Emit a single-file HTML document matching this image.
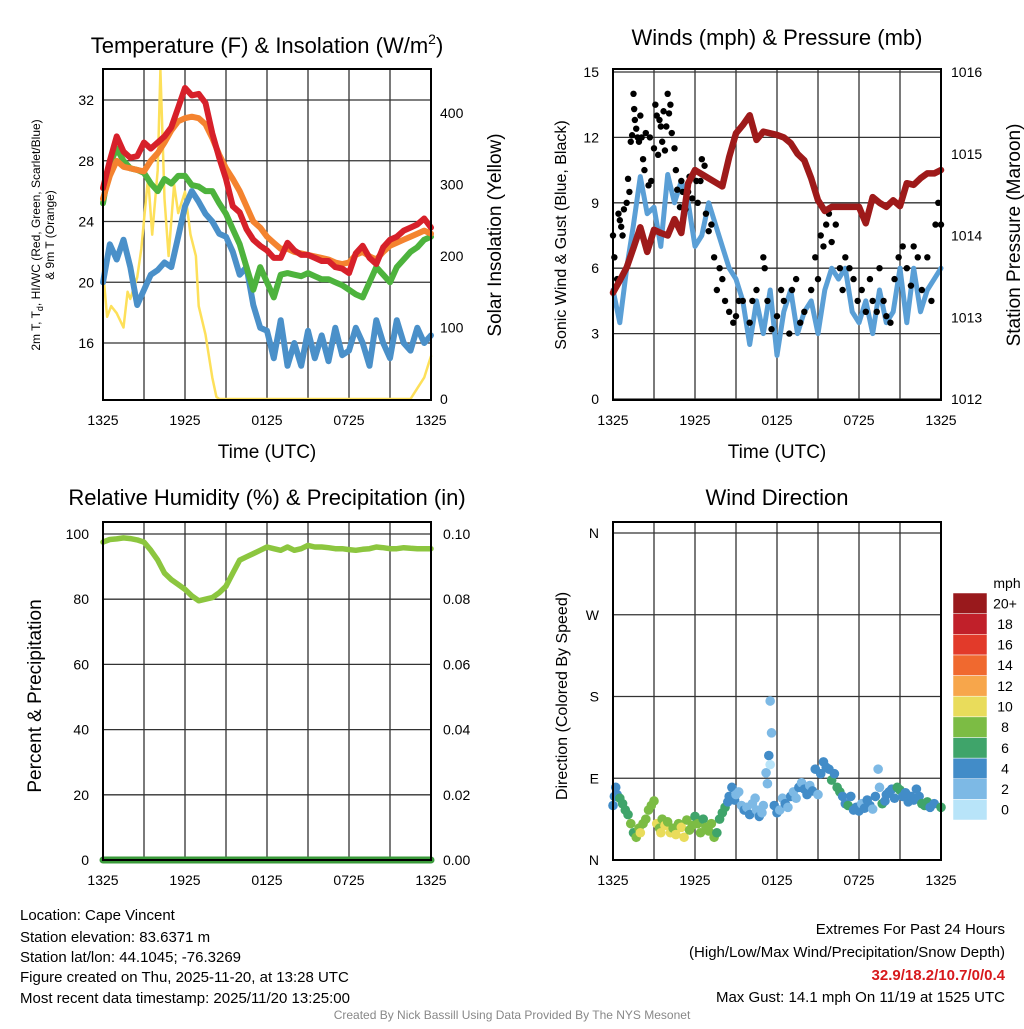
<!DOCTYPE html>
<html><head><meta charset="utf-8"><style>
body{margin:0;background:#fff;width:1024px;height:1024px;overflow:hidden}
svg{font-family:"Liberation Sans",sans-serif}
</style></head><body>
<svg id="s" width="1024" height="1024" viewBox="0 0 1024 1024" xmlns="http://www.w3.org/2000/svg">
<g id="g"></g>
<g font-size="22" text-anchor="middle" fill="#000">
<text x="267" y="53">Temperature (F) &amp; Insolation (W/m<tspan font-size="14" dy="-9">2</tspan><tspan dy="9">)</tspan></text>
<text x="777" y="45">Winds (mph) &amp; Pressure (mb)</text>
<text x="267" y="505">Relative Humidity (%) &amp; Precipitation (in)</text>
<text x="777" y="505">Wind Direction</text>
</g>
<g font-size="19" text-anchor="middle">
<text x="267" y="458">Time (UTC)</text>
<text x="777" y="458">Time (UTC)</text>
<text transform="translate(501,235) rotate(-90)">Solar Insolation (Yellow)</text>
<text transform="translate(1020,235) rotate(-90)">Station Pressure (Maroon)</text>
<text transform="translate(41,696) rotate(-90)">Percent &amp; Precipitation</text>
</g>
<g font-size="12" text-anchor="middle">
<text transform="translate(40,235) rotate(-90)">2m T, T<tspan font-size="9" dy="3">d</tspan><tspan dy="-3">, HI/WC (Red, Green, Scarlet/Blue)</tspan></text>
<text transform="translate(54,235) rotate(-90)">&amp; 9m T (Orange)</text>
</g>
<g font-size="16" text-anchor="middle">
<text transform="translate(566,235) rotate(-90)">Sonic Wind &amp; Gust (Blue, Black)</text>
<text transform="translate(567,696) rotate(-90)">Direction (Colored By Speed)</text>
</g>
<g font-size="15">
<text x="20" y="920">Location: Cape Vincent</text>
<text x="20" y="942">Station elevation: 83.6371 m</text>
<text x="20" y="962">Station lat/lon: 44.1045; -76.3269</text>
<text x="20" y="982">Figure created on Thu, 2025-11-20, at 13:28 UTC</text>
<text x="20" y="1003">Most recent data timestamp: 2025/11/20 13:25:00</text>
</g>
<g font-size="15" text-anchor="end">
<text x="1005" y="934">Extremes For Past 24 Hours</text>
<text x="1005" y="957">(High/Low/Max Wind/Precipitation/Snow Depth)</text>
<text x="1005" y="980" fill="#d7191c" font-weight="bold">32.9/18.2/10.7/0/0.4</text>
<text x="1005" y="1002">Max Gust: 14.1 mph On 11/19 at 1525 UTC</text>
</g>
<text x="512" y="1019" font-size="12" fill="#888" text-anchor="middle">Created By Nick Bassill Using Data Provided By The NYS Mesonet</text>
</svg>
<script>
// ---- data (half-hourly unless paired) ----
const xTickLabels=["1325","1925","0125","0725","1325"];
const tempTicks=[16,20,24,28,32];
const insolTicks=[0,100,200,300,400];
const windTicks=[0,3,6,9,12,15];
const presTicks=[1012,1013,1014,1015,1016];
const rhTicks=[0,20,40,60,80,100];
const precipTicks=["0.00","0.02","0.04","0.06","0.08","0.10"];
const dirTicks=["N","E","S","W","N"];
const tempRed=[26.2,28,29.6,28.6,28.2,28.3,29.2,28.8,29.2,29.6,30.2,31.5,32.8,32.3,32.4,31.8,29.8,28.2,26.8,25,24.6,23.5,22.8,22.4,22.1,21.6,21.6,22.6,22.1,21.8,21.8,21.6,21.4,21.4,21,20.9,20.6,21.9,22.4,21.6,21.2,22.3,22.8,23,23.4,23.6,23.8,24.2,23.6];
const tempOrange=[25.5,27,28,27.6,27.5,27.4,27.3,28,28.5,29.2,30,30.6,30.8,30.9,30.8,30.4,29.5,28.4,27.5,26.8,26,25,24,23.6,23,22.6,22.2,22.2,22,21.9,21.8,21.7,21.6,21.5,21.3,21.2,21.3,21.8,22,21.7,21.5,22,22.4,22.6,22.8,23,23.2,23.4,23.2];
const tempGreen=[25.2,27.8,28.8,28,27.5,27.4,27.2,26.5,26,26.8,26.5,27,27,26.4,26.3,26,26,25.2,24.5,23.5,22.5,21,19.5,21,20,19,20.5,20.6,20.5,20.4,20.6,20.4,20.2,20.2,20,19.8,19.5,19.2,19,20,21,20.5,20,21,21.5,22,22.3,22.8,23];
const tempBlue=[20,22.5,21.5,22.8,21,18.5,19.5,20.5,20.8,21.3,21,23,25,26,25.3,24.5,24,23.2,23,22,20.5,21,18.5,17,16.8,15,17.5,14.5,16,14.5,16.8,15,16.5,14.8,17,15.2,15.5,17,16,14.5,17.5,16,15,17.5,16,15.5,17,16,16.5];
const insolHours=[0,0.3,0.6,1,1.5,1.8,2,2.5,2.8,3,3.3,3.6,4,4.2,4.5,4.8,5.2,5.5,6,6.4,6.8,7,7.5,8,8.3,8.5,22.5,23,23.5,24];
const insolVals=[180,115,130,120,100,150,140,170,210,250,310,230,320,460,280,200,300,260,290,230,200,130,90,30,3,0,0,15,30,60];
const windSpeed=[5,3.5,6,8,10.2,8.5,8.8,7,10.3,9,10,9,7,7.5,9,8,7,6,5.5,4.5,2.5,4.5,3,5,2,4,5,3,4,4.5,3,5,6,5.5,6,4,3.5,4.5,3,5,3.5,4,6,3.5,6,4,5,5.5,6];
const pressure=[1013.3,1013.45,1013.61,1013.85,1014.1,1013.8,1014.07,1014.03,1014,1014.2,1014.03,1014.64,1014.8,1014.75,1014.7,1014.65,1014.6,1014.96,1015.25,1015.35,1015.47,1015.17,1015.27,1015.25,1015.23,1015.2,1015.13,1015.0,1014.92,1014.7,1014.43,1014.3,1014.35,1014.35,1014.35,1014.35,1014.35,1014.15,1014.47,1014.4,1014.35,1014.43,1014.36,1014.64,1014.62,1014.7,1014.76,1014.76,1014.8];
const gustHours=[0,0.1,0.3,0.4,0.5,0.6,0.7,0.8,1,1.1,1.2,1.3,1.4,1.5,1.55,1.6,1.7,1.8,1.9,2,2.1,2.2,2.3,2.4,2.6,2.7,2.8,3,3.1,3.2,3.3,3.4,3.5,3.6,3.7,3.8,3.9,4,4.1,4.2,4.3,4.5,4.6,4.7,4.9,5,5.1,5.3,5.5,5.6,5.8,6,6.1,6.2,6.4,6.5,6.7,6.8,7,7.2,7.4,7.6,7.8,8,8.2,8.5,8.8,9,9.2,9.5,10,10.2,10.5,11,11.1,11.3,11.6,12,12.3,12.5,12.9,13.1,13.4,13.7,14,14.5,14.8,15,15.2,15.4,15.6,15.8,16,16.3,16.6,16.8,17,17.3,17.6,17.9,18.2,18.5,18.8,19,19.3,19.5,19.8,20,20.3,20.6,20.9,21.2,21.5,21.8,22,22.3,22.6,23,23.3,23.6,23.8,24];
const gustVals=[7.5,6.5,5.5,8.5,8.2,7.9,7.5,8.7,9,10.1,9.5,11.8,12.1,14,13.3,12.8,12.4,12,11.8,13,12,11,10.5,12.2,9.8,12,10,11.5,13.5,13,11.2,12.8,12.5,11.8,13.2,11.4,12.5,14,13.1,13.5,12.2,11.5,10.5,9.6,8.8,10,9.5,8.7,9.5,10.2,9.2,10.5,10,9,10,11,10.7,8.5,7.7,8,6.5,5,6,5.5,4.5,4,3.5,3.8,4.5,4.5,3.5,4.5,5,6.5,6,4.5,3.2,3.8,5,4.5,3,5,5.5,3.5,4,5,6.5,5.5,7.5,7,8,8.5,7.2,8,6,5,6.5,6,5.5,4.5,5,4,5.5,4.5,4,6,4.5,3.8,3.5,5.5,6.5,7,6,5.2,7,6.5,5,6.5,4.5,8,9,8];
const rh=[97.5,98.3,98.5,98.8,98.6,98.2,97.5,95,92,88,86,84.5,83,81,79.5,80,80.5,82,84,88,92,93,94,95,96,95.5,95,96,95,95.5,96.5,96,96,95.8,95.5,95.5,95.2,95,95.3,95.5,96,95.8,95.5,95.5,95.8,95.6,95.5,95.5,95.5];
const precip=[0,0,0,0,0,0,0,0,0,0,0,0,0,0,0,0,0,0,0,0,0,0,0,0,0,0,0,0,0,0,0,0,0,0,0,0,0,0,0,0,0,0,0,0,0,0,0,0,0];
const dirHours=[0,0.1,0.2,0.3,0.5,0.7,0.9,1.1,1.3,1.5,1.7,1.9,2,2.2,2.4,2.6,2.8,3,3.2,3.4,3.5,3.6,3.8,4,4.2,4.4,4.6,4.8,5,5.2,5.4,5.6,5.8,6,6.2,6.4,6.6,6.8,7,7.2,7.4,7.6,7.8,8,8.2,8.4,8.5,8.7,8.9,9,9.2,9.4,9.6,9.8,10,10.2,10.4,10.5,10.7,10.9,11,11.2,11.3,11.4,11.5,11.5,11.6,11.8,12,12.2,12.4,12.6,12.8,13,13.2,13.4,13.6,13.8,14,14.2,14.4,14.6,14.8,15,15.2,15.4,15.6,15.8,16,16.2,16.4,16.6,16.8,17,17.2,17.4,17.6,17.8,18,18.2,18.4,18.6,18.8,19,19.2,19.4,19.5,19.7,19.9,20,20.2,20.4,20.6,20.8,21,21.2,21.4,21.6,21.8,22,22.2,22.4,22.6,22.8,23,23.2,23.5,24];
const dirDeg=[60,70,80,72,68,62,55,50,40,30,25,35,30,40,45,55,60,65,40,35,30,45,38,42,30,35,28,40,36,25,44,33,38,48,40,30,45,36,32,40,25,30,45,52,58,64,70,80,66,72,75,60,55,58,50,62,68,55,48,52,60,96,84,115,105,175,140,60,52,55,68,62,58,70,75,68,80,85,78,72,82,76,100,72,95,108,102,100,88,95,80,75,70,62,60,70,55,58,54,62,57,66,60,56,70,100,80,62,65,72,75,78,68,80,77,70,74,64,70,66,78,70,62,60,64,58,62,58];
const dirSpeed=[5,4,4,5,6,6,6,7,8,7,8,9,10,8,9,8,8,8,10,9,10,8,10,9,10,8,10,9,10,10,8,9,8,7,8,9,7,8,9,8,8,7,6,6,7,5,4,4,4,3,2,3,4,3,4,2,2,3,4,3,2,2,2,4,1,2,2,4,4,3,2,4,3,4,2,3,4,3,4,4,3,4,4,3,4,4,4,5,6,4,6,6,5,5,6,5,4,4,4,3,4,4,5,3,4,2,3,6,4,4,4,5,4,6,6,4,4,4,5,5,4,4,6,6,6,5,4,6];
const speedColors=["#b8e4f9","#7db9e5","#428cc8","#3fa46a","#7cbc44","#e9dc5b","#f7a64b","#f0692f","#e23a2a","#c1202a","#99191c"];
const speedLabels=["0","2","4","6","8","10","12","14","16","18","20+"];

// ---- helpers ----
const NS="http://www.w3.org/2000/svg";
const G=document.getElementById('g');
function mk(tag,at,parent){const e=document.createElementNS(NS,tag);for(const k in at)e.setAttribute(k,at[k]);(parent||G).appendChild(e);return e;}
function txt(x,y,s,anchor,size,name){const t=mk('text',{x:x,y:y,'text-anchor':anchor,'font-size':size});t.textContent=s;


return t;}
function panel(x0,y0,x1,y1){return {x0,y0,x1,y1,xs:h=>x0+(x1-x0)*h/24};}
function lin(d0,d1,p0,p1){return v=>p0+(v-d0)*(p1-p0)/(d1-d0);}
function frame(P,name){
  const gr=mk('g',{});
  
  
  for(let i=1;i<8;i++){const x=P.xs(i*3);mk('line',{x1:x,x2:x,y1:P.y0,y2:P.y1,stroke:'#333','stroke-width':1.3},gr);}
  for(let i=0;i<5;i++){const x=P.xs(i*6);txt(x,P.y1+25,xTickLabels[i],'middle',14,name+'-x-tick');}
}
function hline(P,y,gr){mk('line',{x1:P.x0,x2:P.x1,y1:y,y2:y,stroke:'#333','stroke-width':1.3},gr);}
function border(P,name){const r=mk('rect',{x:P.x0,y:P.y0,width:P.x1-P.x0,height:P.y1-P.y0,fill:'none',stroke:'#000','stroke-width':2});

}
function path(pts,color,w,name){const d=pts.map((p,i)=>(i?'L':'M')+p[0].toFixed(1)+','+p[1].toFixed(1)).join('');
const e=mk('path',{d:d,fill:'none',stroke:color,'stroke-width':w,'stroke-linejoin':'round','stroke-linecap':'round'});

return e;}
function series(P,arr,ys){const n=arr.length;return arr.map((v,i)=>[P.xs(i*24/(n-1)),ys(v)]);}

// ---- Panel 1: temperature ----
const P1=panel(103,69,431,400);
const yT=lin(16,32,343,100), yI=lin(0,400,399,113);
frame(P1,'temp');
tempTicks.forEach(v=>{hline(P1,yT(v));txt(P1.x0-9,yT(v)+5,String(v),'end',14,'temp-y-tick');});
insolTicks.forEach(v=>{txt(P1.x1+9,yI(v)+5,String(v),'start',14,'insolation-y-tick');});
path(insolHours.map((h,i)=>[P1.xs(h),yI(insolVals[i])]),'#fde05a',2.5,'insolation-line');
path(series(P1,tempBlue,yT),'#4a90c9',6,'windchill-line');
path(series(P1,tempGreen,yT),'#4db33d',6,'dewpoint-line');
path(series(P1,tempOrange,yT),'#f4832f',6,'temp-9m-line');
path(series(P1,tempRed,yT),'#d7202a',6,'temp-2m-line');
border(P1,'temp');

// ---- Panel 2: winds ----
const P2=panel(613,69,941,400);
const yW=lin(0,15,399,72), yP=lin(1012,1016,399,72);
frame(P2,'wind');
windTicks.forEach(v=>{hline(P2,yW(v));txt(P2.x0-14,yW(v)+5,String(v),'end',14,'wind-y-tick');});
presTicks.forEach(v=>{txt(P2.x1+10,yP(v)+5,String(v),'start',14,'pressure-y-tick');});
path(series(P2,windSpeed,yW),'#5a9fd6',5,'wind-speed-line');
gustHours.forEach((h,i)=>{const c=mk('circle',{cx:P2.xs(h),cy:yW(gustVals[i]),r:3.2,fill:'#000'});

});
path(series(P2,pressure,yP),'#9e1a1a',6.5,'pressure-line');
border(P2,'wind');

// ---- Panel 3: RH ----
const P3=panel(103,522,431,860);
const yR=lin(0,100,860,534), yPr=lin(0,0.1,860,534);
frame(P3,'rh');
rhTicks.forEach((v,i)=>{hline(P3,yR(v));txt(P3.x0-14,yR(v)+5,String(v),'end',14,'rh-y-tick');txt(P3.x1+12,yR(v)+5,precipTicks[i],'start',14,'precip-y-tick');});
path(series(P3,rh,yR),'#8cc63f',5.5,'rh-line');
path(series(P3,precip,v=>yPr(v)),'#3a9a3a',7,'precip-line');
border(P3,'rh');

// ---- Panel 4: direction ----
const P4=panel(613,522,941,860);
const yD=lin(0,360,860,533);
frame(P4,'direction');
dirTicks.forEach((s,i)=>{const y=yD(i*90);hline(P4,y);txt(P4.x0-14,y+5,s,'end',14,'direction-y-tick');});
dirHours.forEach((h,i)=>{const b=Math.min(10,Math.floor(dirSpeed[i]/2));const c=mk('circle',{cx:P4.xs(h),cy:yD(dirDeg[i]),r:4.8,fill:speedColors[b]});

});
border(P4,'direction');

// colorbar
const cb=mk('g',{});


const bh=(820-593)/11;
for(let i=0;i<11;i++){const y=593+(10-i)*bh;mk('rect',{x:953,y:y,width:34,height:bh,fill:speedColors[i],stroke:'#fff','stroke-width':0.5},cb);
txt(1005,y+bh/2+5,speedLabels[i],'middle',14,'colorbar-label');}
txt(1007,588,'mph','middle',14,'colorbar-unit');
</script>
</body></html>
